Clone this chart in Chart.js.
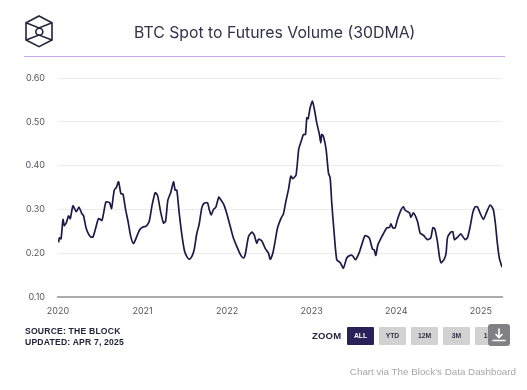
<!DOCTYPE html>
<html><head><meta charset="utf-8">
<script src="https://cdn.jsdelivr.net/npm/chart.js@4"></script>
<style>
html,body{margin:0;padding:0;background:#fff;width:527px;height:390px;overflow:hidden;font-family:Inter,"Liberation Sans",sans-serif}
#c{position:absolute;left:0;top:0}
.abs{position:absolute;white-space:nowrap}
#title{left:134px;top:22px;font-size:15.8px;line-height:22px;color:#33324a;font-family:Inter,sans-serif}
#rule{left:24px;top:56px;width:481px;height:1px;background:#c9a8ee}
#src{left:25px;top:326px;font:bold 8.6px/10.5px "Liberation Sans",sans-serif;color:#23233a;letter-spacing:.2px}
#zoom{left:312px;top:330px;font:bold 9.5px/12px "Liberation Sans",sans-serif;color:#23233a;letter-spacing:.2px}
.btn{top:327px;width:27px;height:18px;background:#d2d2d2;color:#33324a;font:bold 6.8px/18px "Liberation Sans",sans-serif;text-align:center;border-radius:1px}
#all{background:#2a2158;color:#fff}
#dl{left:488px;top:324px;width:22px;height:22px;background:#808085;border-radius:3px}
#via{right:11px;top:366px;font:9.8px/12px "Liberation Sans",sans-serif;color:#a6a6a6}
</style></head><body>
<canvas id="c" width="527" height="390"></canvas>
<svg class="abs" style="left:24px;top:15px" width="30" height="33" viewBox="0 0 30 33" fill="none" stroke="#24243a" stroke-width="1.6">
<path d="M15 1 L28 7.7 V25 L15 31.7 L2 25 V7.7 Z"/><path d="M2 7.7 L15 13 L28 7.7 M2 25 L15 20 L28 25"/><circle cx="15.3" cy="16.7" r="3.5"/>
</svg>
<div class="abs" id="title">BTC Spot to Futures Volume (30DMA)</div>
<div class="abs" id="rule"></div>
<div class="abs" id="src">SOURCE: THE BLOCK<br>UPDATED: APR 7, 2025</div>
<div class="abs" id="zoom">ZOOM</div>
<div class="abs btn" id="all" style="left:347px">ALL</div>
<div class="abs btn" style="left:379px">YTD</div>
<div class="abs btn" style="left:411px">12M</div>
<div class="abs btn" style="left:443px">3M</div>
<div class="abs btn" style="left:475px">1M</div>
<div class="abs" id="dl"><svg width="22" height="22" viewBox="0 0 22 22" fill="none" stroke="#fff" stroke-width="1.6"><path d="M11 4.5 V13 M7.5 10 L11 13.5 L14.5 10 M4.5 16.5 H17.5"/></svg></div>
<div class="abs" id="via">Chart via The Block's Data Dashboard</div>
<script>
const yearTicks = ['2020','2021','2022','2023','2024','2025'];
const yTicks = ['0.10','0.20','0.30','0.40','0.50','0.60'];
const dates = [2020.008,2020.016,2020.036,2020.059,2020.075,2020.099,2020.125,2020.145,2020.177,2020.216,2020.248,2020.280,2020.303,2020.331,2020.363,2020.389,2020.413,2020.441,2020.480,2020.520,2020.567,2020.611,2020.633,2020.665,2020.689,2020.716,2020.744,2020.768,2020.799,2020.831,2020.859,2020.893,2020.925,2020.964,
2021.004,2021.044,2021.079,2021.111,2021.149,2021.177,2021.216,2021.248,2021.272,2021.299,2021.335,2021.366,2021.385,2021.405,2021.433,2021.464,2021.496,2021.524,2021.551,2021.583,2021.610,2021.641,2021.669,2021.701,2021.728,2021.768,2021.788,2021.811,2021.839,2021.866,2021.901,
2021.918,2021.958,2021.989,2022.037,2022.075,2022.115,2022.154,2022.194,2022.217,2022.253,2022.293,2022.319,2022.351,2022.371,2022.410,2022.450,2022.489,2022.509,2022.540,2022.567,2022.595,2022.638,2022.666,2022.694,2022.725,2022.753,2022.777,2022.815,2022.847,2022.883,2022.902,2022.926,2022.942,2022.958,
2022.981,2023.009,2023.032,2023.059,2023.091,2023.107,2023.119,2023.138,2023.170,2023.198,2023.218,2023.237,2023.265,2023.296,2023.335,2023.375,2023.414,2023.454,2023.485,2023.517,2023.563,2023.591,2023.631,
2023.680,2023.719,2023.738,2023.758,2023.782,2023.829,2023.849,2023.888,2023.920,2023.936,2023.959,2023.986,2024.014,2024.054,2024.085,2024.105,2024.156,2024.172,2024.203,2024.250,2024.282,2024.321,2024.369,2024.408,2024.432,2024.455,2024.486,2024.510,2024.530,2024.569,2024.589,2024.605,2024.644,2024.668,2024.688,2024.722,2024.762,2024.813,2024.841,2024.873,2024.904,2024.932,2024.959,2024.990,2025.030,2025.069,2025.109,2025.147,2025.171,2025.195,2025.219,2025.25];
const ratio = [.225,.235,.233,.277,.263,.27,.285,.279,.308,.295,.305,.291,.285,.258,.243,.237,.237,.254,.279,.275,.317,.315,.302,.344,.35,.363,.336,.335,.30,.27,.239,.222,.235,.253,.26,.262,.273,.308,.338,.332,.292,.269,.273,.321,.34,.363,.344,.344,.292,.243,.205,.192,.186,.193,.208,.245,.266,.304,.314,.315,.30,.287,.30,.305,.328,
.324,.312,.295,.261,.234,.215,.198,.189,.20,.238,.248,.242,.223,.232,.228,.211,.20,.186,.20,.227,.257,.28,.29,.318,.345,.376,.37,.379,.438,.46,.471,.471,.509,.507,.532,.547,.528,.498,.471,.452,.471,.467,.437,.383,.372,.315,.246,.185,.179,.166,.189,.195,.194,.185,.202,.219,.24,
.235,.209,.208,.195,.219,.238,.245,.258,.259,.267,.258,.258,.277,.298,.306,.298,.292,.282,.292,.273,.246,.241,.231,.235,.258,.256,.227,.192,.178,.187,.20,.235,.248,.249,.231,.236,.244,.231,.235,.26,.292,.306,.306,.292,.277,.294,.31,.30,.269,.223,.188,.168];

new Chart(document.getElementById('c'), {
  type: 'line',
  data: { datasets: [{
    data: dates.map((d, i) => ({ x: d, y: ratio[i] })),
    borderColor: '#1e1a48', borderWidth: 1.7, pointRadius: 0, tension: 0.2, fill: false
  }]},
  options: {
    responsive: false, animation: false,
    layout: { padding: { top: 78, right: 25, left: 0, bottom: 0 } },
    plugins: { legend: { display: false }, tooltip: { enabled: false }, title: { display: false } },
    scales: {
      x: {
        type: 'linear', min: +yearTicks[0], max: 2025.25,
        afterFit(s) { s.height = 93; },
        afterBuildTicks(s) { s.ticks = yearTicks.map(v => ({ value: +v })); },
        grid: { display: false, drawTicks: false },
        border: { display: true, color: '#ababab', width: 2 },
        ticks: { callback: v => String(v), maxRotation: 0, autoSkip: false, padding: 9, color: '#55555f', font: { family: 'Inter', size: 9 } }
      },
      y: {
        min: +yTicks[0], max: +yTicks[5],
        afterFit(s) { s.width = 58; },
        afterBuildTicks(s) { s.ticks = yTicks.map(v => ({ value: +v })); },
        grid: { color: '#ececec', lineWidth: 1, drawTicks: false },
        border: { display: false },
        ticks: { callback: v => v.toFixed(2), padding: 13, color: '#55555f', font: { family: 'Inter', size: 9 } }
      }
    }
  }
});
</script>
</body></html>
